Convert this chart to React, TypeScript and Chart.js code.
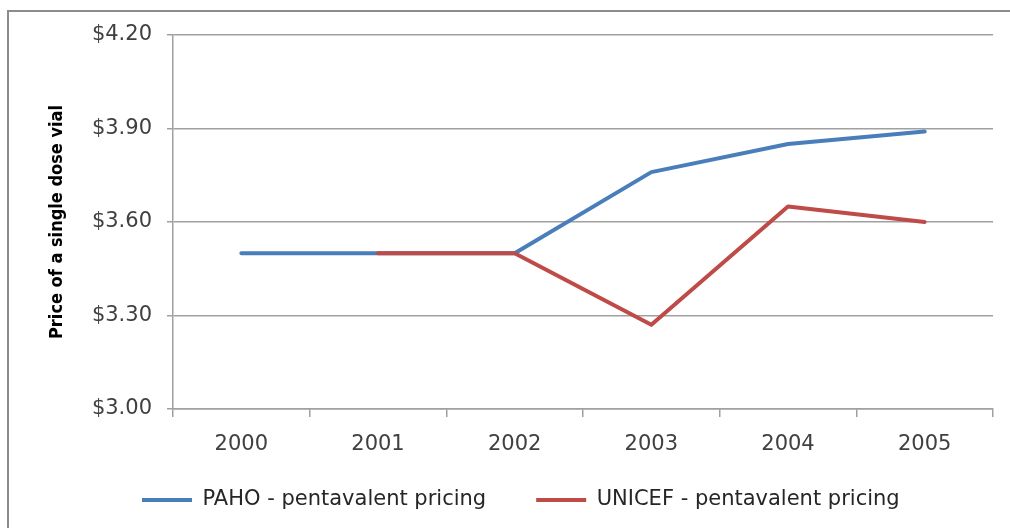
import React, { useEffect, useRef } from 'react';
import { Chart, registerables } from 'chart.js';

Chart.register(...registerables);

// ---- data ----
const years = ['2000', '2001', '2002', '2003', '2004', '2005'];
const pahoPrices = [3.5, 3.5, 3.5, 3.76, 3.85, 3.89];
const unicefPrices = [null, 3.5, 3.5, 3.27, 3.65, 3.6];
const priceTicks = [3.0, 3.3, 3.6, 3.9, 4.2];
const seriesNames = ['PAHO - pentavalent pricing', 'UNICEF - pentavalent pricing'];
const seriesColors = ['#4A7EBB', '#BE4B48'];
const yAxisTitle = 'Price of a single dose vial';

// ---- style ----
const FONT = "'DejaVu Sans', sans-serif";
const TITLE_FONT = "'Liberation Sans Narrow', 'DejaVu Sans Condensed', sans-serif";
const GRID = '#a0a0a0';
const LEGEND_PAD = 50;
const LEGEND_FONT = 21;
const W = 1010;
const H = 528;

const legendPlacer = {
  id: 'legendPlacer',
  afterLayout(chart: any) {
    const lg = chart.legend;
    if (!lg) return;
    lg.left = 142 - LEGEND_PAD;
    lg.right = W;
    lg.top = 500 - LEGEND_FONT / 2 - LEGEND_PAD;
    lg.bottom = H;
    lg.width = lg.right - lg.left;
    lg.height = lg.bottom - lg.top;
  },
};

export default function App() {
  const ref = useRef<HTMLCanvasElement | null>(null);

  useEffect(() => {
    if (!ref.current) return;
    const chart = new Chart(ref.current, {
      type: 'line',
      data: {
        labels: years,
        datasets: [
          {
            label: seriesNames[0],
            data: pahoPrices,
            borderColor: seriesColors[0],
            backgroundColor: seriesColors[0],
            borderWidth: 4,
            pointRadius: 0,
            tension: 0,
            borderJoinStyle: 'round',
            borderCapStyle: 'round',
            order: 1,
          },
          {
            label: seriesNames[1],
            data: unicefPrices,
            borderColor: seriesColors[1],
            backgroundColor: seriesColors[1],
            borderWidth: 4,
            pointRadius: 0,
            tension: 0,
            borderJoinStyle: 'round',
            borderCapStyle: 'round',
            spanGaps: false,
            order: 0,
          },
        ],
      },
      options: {
        responsive: false,
        animation: false,
        devicePixelRatio: 1,
        layout: { padding: { top: 35, right: 17, left: 0, bottom: 0 } },
        plugins: {
          tooltip: { enabled: false },
          legend: {
            display: true,
            position: 'bottom',
            align: 'start',
            maxHeight: 40,
            labels: {
              font: { family: FONT, size: LEGEND_FONT },
              color: '#262626',
              boxWidth: 50,
              boxHeight: 4,
              padding: LEGEND_PAD,
              sort: (a: any, b: any) => a.datasetIndex - b.datasetIndex,
              generateLabels: (c: any) =>
                Chart.defaults.plugins.legend.labels
                  .generateLabels(c)
                  .map((l: any) => ({ ...l, lineWidth: 0, fillStyle: l.strokeStyle })),
            },
          },
        },
        scales: {
          x: {
            type: 'category',
            offset: true,
            grid: {
              offset: true,
              drawOnChartArea: false,
              drawTicks: true,
              tickLength: 8,
              color: GRID,
              tickColor: GRID,
              lineWidth: 1.5,
            },
            border: { display: true, color: GRID, width: 1.5 },
            ticks: {
              font: { family: FONT, size: 21 },
              color: '#404040',
              padding: 15,
              maxRotation: 0,
              autoSkip: false,
            },
            afterFit: (s: any) => {
              s.height = H - 409 - 40;
            },
          },
          y: {
            min: priceTicks[0],
            max: priceTicks[priceTicks.length - 1],
            afterBuildTicks: (s: any) => {
              s.ticks = priceTicks.map((v) => ({ value: v }));
            },
            grid: {
              color: GRID,
              tickColor: GRID,
              tickLength: 6,
              drawTicks: true,
              lineWidth: 1.5,
            },
            border: { display: true, color: GRID, width: 1.5 },
            ticks: {
              font: { family: FONT, size: 21 },
              color: '#404040',
              padding: 15,
              callback: (v: any) => '$' + Number(v).toFixed(2),
            },
            title: {
              display: true,
              text: yAxisTitle,
              color: '#000000',
              font: { family: TITLE_FONT, size: 18, weight: 'bold' },
              padding: { top: 47, bottom: 0 },
            },
            afterFit: (s: any) => {
              s.width = 173;
            },
          },
        },
      },
      plugins: [legendPlacer],
    } as any);
    return () => chart.destroy();
  }, []);

  return (
    <div
      style={{
        position: 'fixed',
        left: 0,
        top: 0,
        width: W,
        height: H,
        overflow: 'hidden',
        background: '#ffffff',
      }}
    >
      <div
        style={{
          position: 'absolute',
          left: 7,
          top: 10,
          width: W + 100,
          height: H + 100,
          borderLeft: '2px solid #8c8c8c',
          borderTop: '2px solid #8c8c8c',
          boxSizing: 'border-box',
        }}
      />
      <canvas
        ref={ref}
        width={W}
        height={H}
        style={{ position: 'absolute', left: 0, top: 0, width: W, height: H }}
      />
    </div>
  );
}
